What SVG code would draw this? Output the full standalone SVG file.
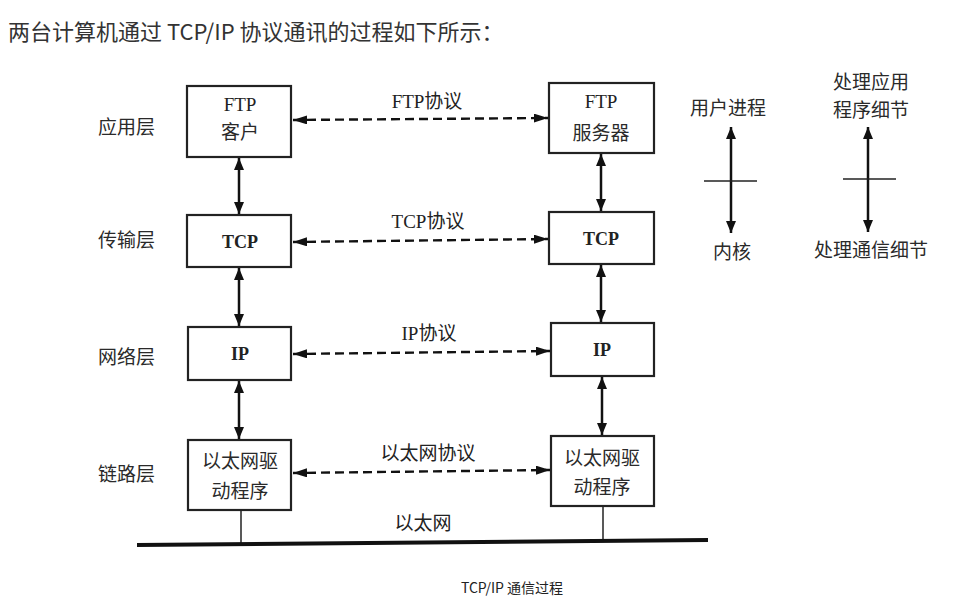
<svg xmlns="http://www.w3.org/2000/svg" width="955" height="605" viewBox="0 0 955 605">
  <defs>
    <marker id="ah" viewBox="0 0 12 10" refX="12" refY="5" markerWidth="12" markerHeight="10" markerUnits="userSpaceOnUse" orient="auto-start-reverse">
      <path d="M0,0 L12,5 L0,10 Z" fill="#111"/>
    </marker>
    <marker id="ahs" viewBox="0 0 14 9" refX="14" refY="4.5" markerWidth="14" markerHeight="9" markerUnits="userSpaceOnUse" orient="auto-start-reverse">
      <path d="M0,0 L14,4.5 L0,9 Z" fill="#111"/>
    </marker>
    <style>
      .box { fill: #fff; stroke: #222; stroke-width: 2.2; }
      .lat { font-family: "Liberation Serif", "Noto Sans CJK SC", serif; font-size: 18px; font-weight: bold; fill: #222; text-anchor: middle; }
      .latr { font-family: "Liberation Serif", "Noto Sans CJK SC", serif; font-size: 19px; fill: #222; text-anchor: middle; }
      .cjk { font-family: "Noto Sans CJK SC", sans-serif; font-size: 19px; fill: #2a2a2a; text-anchor: middle; }
      .lbl { font-family: "Noto Sans CJK SC", sans-serif; font-size: 19px; fill: #2a2a2a; }
      .proto { font-family: "Liberation Serif", "Noto Sans CJK SC", serif; font-size: 19px; fill: #222; text-anchor: middle; }
      .solid { stroke: #111; stroke-width: 2.5; fill: none; }
      .dash { stroke: #111; stroke-width: 2.4; fill: none; stroke-dasharray: 9 5; }
      .thin { stroke: #222; stroke-width: 1.5; fill: none; }
    </style>
  </defs>

  <rect width="955" height="605" fill="#fff"/>

  <text id="title" x="8" y="40" font-family="'Noto Sans CJK SC', sans-serif" font-size="22" fill="#333">两台计算机通过 TCP/IP 协议通讯的过程如下所示：</text>

  <g id="layer-labels">
    <text class="lbl" x="98" y="134">应用层</text>
    <text class="lbl" x="98" y="247">传输层</text>
    <text class="lbl" x="98" y="364">网络层</text>
    <text class="lbl" x="98" y="481">链路层</text>
  </g>

  <g id="ftp-client">
    <rect class="box" x="187" y="86" width="104" height="71"/>
    <text class="latr" x="240" y="111">FTP</text>
    <text class="cjk" x="240" y="139">客户</text>
  </g>
  <g id="ftp-server">
    <rect class="box" x="549" y="83" width="105" height="70"/>
    <text class="latr" x="601" y="108">FTP</text>
    <text class="cjk" x="601" y="140">服务器</text>
  </g>
  <g id="tcp-left">
    <rect class="box" x="187" y="215" width="104" height="52"/>
    <text class="lat" x="240" y="248">TCP</text>
  </g>
  <g id="tcp-right">
    <rect class="box" x="549" y="212" width="105" height="52"/>
    <text class="lat" x="601" y="245">TCP</text>
  </g>
  <g id="ip-left">
    <rect class="box" x="188" y="327" width="103" height="53"/>
    <text class="lat" x="240" y="360">IP</text>
  </g>
  <g id="ip-right">
    <rect class="box" x="551" y="323" width="103" height="53"/>
    <text class="lat" x="602" y="356">IP</text>
  </g>
  <g id="eth-left">
    <rect class="box" x="188" y="440" width="103" height="70"/>
    <text class="cjk" x="240" y="468">以太网驱</text>
    <text class="cjk" x="240" y="498">动程序</text>
  </g>
  <g id="eth-right">
    <rect class="box" x="551" y="436" width="103" height="70"/>
    <text class="cjk" x="602" y="465">以太网驱</text>
    <text class="cjk" x="602" y="494">动程序</text>
  </g>

  <g id="protocol-labels">
    <text class="proto" x="427" y="108">FTP协议</text>
    <text class="proto" x="428" y="228">TCP协议</text>
    <text class="proto" x="429" y="340">IP协议</text>
    <text class="proto" x="428" y="460">以太网协议</text>
    <text class="proto" x="423" y="530">以太网</text>
  </g>

  <g id="connectors">
    <line class="solid" x1="239" y1="158" x2="239" y2="214" marker-start="url(#ah)" marker-end="url(#ah)"/>
    <line class="solid" x1="239" y1="268" x2="239" y2="326" marker-start="url(#ah)" marker-end="url(#ah)"/>
    <line class="solid" x1="239" y1="381" x2="239" y2="439" marker-start="url(#ah)" marker-end="url(#ah)"/>
    <line class="solid" x1="601" y1="154" x2="601" y2="211" marker-start="url(#ah)" marker-end="url(#ah)"/>
    <line class="solid" x1="601" y1="265" x2="601" y2="322" marker-start="url(#ah)" marker-end="url(#ah)"/>
    <line class="solid" x1="602" y1="377" x2="602" y2="435" marker-start="url(#ah)" marker-end="url(#ah)"/>

    <line class="dash" x1="293" y1="120" x2="548" y2="118" marker-start="url(#ahs)" marker-end="url(#ahs)"/>
    <line class="dash" x1="293" y1="242" x2="548" y2="239" marker-start="url(#ahs)" marker-end="url(#ahs)"/>
    <line class="dash" x1="293" y1="354" x2="550" y2="351" marker-start="url(#ahs)" marker-end="url(#ahs)"/>
    <line class="dash" x1="293" y1="473" x2="550" y2="470" marker-start="url(#ahs)" marker-end="url(#ahs)"/>

    <line class="thin" x1="241" y1="511" x2="241" y2="545"/>
    <line class="thin" x1="603" y1="507" x2="603" y2="541"/>
    <line x1="137" y1="545" x2="708" y2="540" stroke="#111" stroke-width="4"/>
  </g>

  <g id="legend-user">
    <text class="cjk" x="728" y="115" font-size="20">用户进程</text>
    <line class="solid" x1="731" y1="127" x2="731" y2="233" marker-start="url(#ah)" marker-end="url(#ah)"/>
    <line class="thin" x1="704" y1="181" x2="757" y2="181"/>
    <text class="cjk" x="732" y="259" font-size="20">内核</text>
  </g>
  <g id="legend-detail">
    <text class="cjk" x="871" y="89" font-size="20">处理应用</text>
    <text class="cjk" x="871" y="117" font-size="20">程序细节</text>
    <line class="solid" x1="868" y1="127" x2="868" y2="232" marker-start="url(#ah)" marker-end="url(#ah)"/>
    <line class="thin" x1="843" y1="179" x2="896" y2="179"/>
    <text class="cjk" x="871" y="257" font-size="20">处理通信细节</text>
  </g>

  <text id="caption" x="512" y="593" font-family="'Noto Sans CJK SC', sans-serif" font-size="14" fill="#222" text-anchor="middle">TCP/IP 通信过程</text>
</svg>
